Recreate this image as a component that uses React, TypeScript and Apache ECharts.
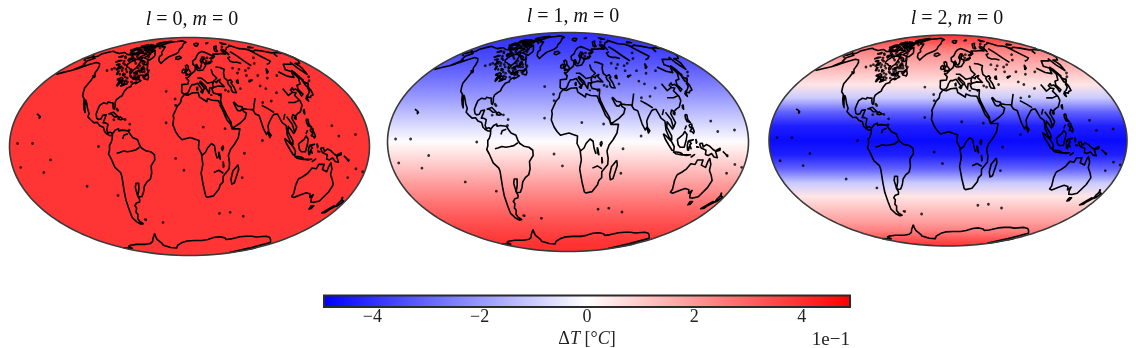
import React, { useEffect, useRef } from "react";
import * as echarts from "echarts";

const mapTitles = [
  ["l", "0", "m", "0"],
  ["l", "1", "m", "0"],
  ["l", "2", "m", "0"],
];
const latitudes = [90, 80, 70, 60, 50, 40, 30, 20, 10, 0, -10, -20, -30, -40, -50, -60, -70, -80, -90];
const valuesL0 = [3.9, 3.9, 3.9, 3.9, 3.9, 3.9, 3.9, 3.9, 3.9, 3.9, 3.9, 3.9, 3.9, 3.9, 3.9, 3.9, 3.9, 3.9, 3.9];
const valuesL1 = [-4.0, -3.9, -3.7, -3.4, -3.0, -2.5, -1.95, -1.3, -0.65, 0.05, 0.7, 1.35, 2.0, 2.55, 3.05, 3.45, 3.75, 3.95, 4.0];
const valuesL2 = [3.9, 3.4, 2.5, 1.8, 1.2, 0.5, -1.0, -3.0, -4.3, -4.7, -4.3, -3.0, -1.0, 0.5, 1.2, 1.8, 2.5, 3.4, 3.9];
const colorbarTicks = [-4, -2, 0, 2, 4];
const colorLimit = 4.9;

type P = number[];
const northAmerica: P[] = [[-168,65.5],[-164,66.5],[-166,68.5],[-160,70.5],[-156,71.3],[-148,70.3],[-141,69.7],[-135,69],[-128,70],[-124,69.5],[-115,68],[-108,68],[-102,68],[-96,68],[-94,71],[-90,69],[-85,69.5],[-81,68.5],[-86,66],[-87,64],[-92,62.5],[-94,60],[-94,58.5],[-92,57],[-88,56.5],[-85,55.3],[-82,55],[-82,53],[-80,51.5],[-79,52],[-79,54.5],[-77,56],[-77,59],[-78,62],[-74,62.3],[-70,61],[-69.5,58.8],[-66,58.8],[-64.5,60],[-62,57.5],[-60,55],[-56,52.5],[-59,50.3],[-65,50.2],[-68,49],[-71,47],[-65,49],[-64.5,47],[-61,46],[-64,44.5],[-66,43.7],[-66,45],[-69,44],[-70.5,42.5],[-70,41.5],[-74,40.5],[-75.5,38],[-76,36.5],[-76,35],[-78,34],[-81,32],[-81.3,30],[-80,27],[-80.3,25.3],[-81.5,26],[-82.7,28],[-83.5,29.8],[-85.5,29.8],[-89,30.3],[-89.5,29.2],[-91,29.3],[-94,29.7],[-97,28],[-97.5,25],[-97.8,22],[-96,19],[-94,18.2],[-91.5,18.6],[-90.5,21],[-87,21.5],[-87.7,18.5],[-88.5,16],[-86,15.9],[-83.3,15],[-83.6,11],[-82,9],[-79.5,9.5],[-77.5,8.6],[-78,7.5],[-80,7.3],[-83,8.3],[-85.7,10],[-87.5,13],[-91.5,14],[-94.5,16.2],[-98,16],[-102,18],[-105.5,20],[-105.5,22.5],[-109,26],[-112.5,30],[-114.7,31.7],[-113,28],[-110,23],[-112,25],[-115,29],[-117,32.5],[-120.5,34.5],[-122.5,37.5],[-124.3,40.5],[-124,46],[-124.7,48.4],[-123,49],[-128,52],[-130,55],[-134,58],[-139,60],[-146,60.8],[-152,59],[-158,56.5],[-163,55],[-158,58.5],[-162,60],[-165,62],[-161,64.5],[-168,65.5]];
const southAmerica: P[] = [[-77.5,8.6],[-75,11],[-72,12],[-71.5,10.5],[-68,11],[-62,10.5],[-60,8.5],[-57,6],[-52,4.5],[-50,1],[-48,-1],[-44,-2.8],[-39,-3.5],[-35.2,-5.5],[-35,-9],[-39,-13],[-39,-18],[-41,-22],[-45,-24],[-48.5,-27],[-50.5,-31],[-53.5,-34.3],[-57,-34.6],[-58.3,-33.5],[-57,-36.5],[-58,-38.3],[-62,-39],[-65,-41],[-64,-42.5],[-67,-46],[-66,-47.5],[-69,-51],[-68.5,-53],[-65.5,-55],[-69,-55.5],[-73,-53.5],[-75.5,-50],[-74,-44],[-73,-37],[-71.5,-30],[-70.3,-20],[-71,-17.5],[-76,-14],[-79,-8],[-81.2,-5],[-80,-2.5],[-80,1],[-78.5,2.5],[-77.5,5],[-77.5,8.6]];
const africa: P[] = [[-5.9,35.8],[-2,35.2],[3,36.8],[10,37.2],[11,34],[15,32.3],[19,30.5],[20,32.8],[25,31.6],[32,31.2],[32.5,29.8],[34.3,28],[33,28],[35,25],[37,21],[38.5,18],[42,15],[43.3,11.8],[51,11.8],[49,6],[45,1.5],[41,-2],[39,-6],[40.5,-11],[40.5,-15],[35,-20],[35.5,-24],[32.8,-26],[32,-29],[27,-33.8],[20,-34.8],[18.3,-34],[15,-27],[12,-18],[13.5,-12],[12,-5],[9,-1],[9.5,4],[5,5],[1,6],[-4,5.2],[-7.5,4.5],[-11,7],[-14,10],[-17,14.7],[-16.3,19],[-17,21],[-13,27.5],[-9.7,30],[-9,33],[-5.9,35.8]];
const eurasia: P[] = [[-9,37],[-9.3,43],[-2,43.5],[-1,46],[-4.5,48.3],[-1.5,48.7],[2,51],[4,52],[7,53.5],[8.5,55.5],[8.3,57],[10.5,57.5],[10,55],[12,54],[14,54],[19,54.5],[21,56],[24,58],[23.5,59.3],[28,59.7],[30,60],[25,60.2],[21.5,60.7],[21.5,63],[25,65.5],[22,65.8],[17.5,62.5],[18.8,60],[16.5,57],[14.3,55.5],[12.7,56],[11,59],[8,58],[5.3,59],[5,62],[10,64],[14,67.5],[18,69.5],[25,71],[31,70],[41,67],[40,65.5],[35,64.5],[37,64],[40,64.7],[44,66],[44,68.5],[54,68.5],[60,69],[68,68.5],[67,72],[73,73],[73,68],[74,72],[80,73],[87,75],[100,76.5],[105,77.7],[113,74],[125,73.5],[130,71],[140,72.5],[150,71.5],[160,69.7],[170,70],[180,69],[180,65],[177,62.5],[170,60],[163,60],[163,58],[162,56],[157,51],[155.7,56],[159,61],[155,59.3],[143,59.3],[135,54.7],[141,53],[140,48],[135,43.5],[130,42.5],[127.5,39.5],[129.5,36],[126.5,34.5],[126.5,37.5],[125,39.7],[121.5,39],[122,40.7],[118,39],[119,37.3],[122.5,37],[119,35],[121.8,31],[121.5,28],[117,23.5],[113.5,22.3],[110,20.5],[108,21.5],[106,19],[109,13],[107,10.5],[105,8.7],[103,11],[100.5,13.5],[99.5,10],[103.5,4],[103.5,1.4],[101,3],[98.3,8],[98.5,14],[95,16],[94,18],[92,22],[89,21.8],[87,21],[82,16.5],[80,14],[80,10.5],[77.5,8],[75,12],[73,19],[72.5,21],[69,22],[67,25],[61,25.2],[57,25.7],[56.3,27],[52,27.5],[49,30.2],[48,29.8],[50.5,25],[51.5,24.3],[54,24.2],[56.3,25.8],[56.8,24],[59.8,22.5],[57.5,19],[52,15.8],[45,12.8],[43,13],[42.5,16.5],[39,21],[35,28.2],[34.3,31.3],[35,33],[36,36],[32,36],[27.5,36.7],[26.3,39.5],[29,41],[35,42],[41.5,41.5],[38,44.5],[37,45.5],[39,47],[35,46],[33.5,44.5],[30.5,46],[28,43],[28.5,41.2],[26,40.7],[24,40.7],[23,38],[22.5,36.5],[20,39.7],[19.5,41.5],[15,44.5],[13.5,45.5],[12.5,44.5],[16,41.7],[18.4,40],[16.5,39.5],[16,38],[12.5,41.5],[10,44],[6,43],[3,43],[0.5,40.5],[-0.5,38.5],[-2,36.8],[-5.5,36],[-9,37]];
const australia: P[] = [[114,-22],[113.5,-26],[115.5,-32],[115,-34.3],[118,-35],[124,-33],[129,-31.6],[134,-32.5],[136,-35],[138,-33],[138.5,-35.5],[141,-38.2],[145,-38.5],[150,-37.5],[153,-31],[153.5,-26],[150,-22.5],[146,-19],[145.5,-15],[143,-11],[141.8,-13],[141,-17],[136,-15.5],[136.5,-12],[131,-12],[129.5,-15],[125,-14.5],[122,-18],[118,-20.3],[114,-22]];
const greenland: P[] = [[-73,78.2],[-68,76],[-60,76],[-55,70],[-51,68],[-53,66],[-50,62.5],[-44,60],[-41,63],[-37,65.7],[-26,68.5],[-22,70.5],[-22,73],[-18,76],[-18,80],[-12,81.5],[-30,83.5],[-45,82.5],[-60,82],[-68,80.5],[-73,78.2]];
const antarctica: P[] = [[-58,-63.5],[-60,-66],[-62,-69],[-60,-73],[-62,-75],[-50,-77.5],[-35,-78],[-28,-75],[-15,-72],[-5,-70.5],[10,-70],[25,-70],[35,-69],[45,-67],[55,-66.5],[65,-67.5],[70,-69],[78,-68.5],[90,-66.5],[100,-66],[110,-66],[120,-66.7],[135,-66],[145,-67],[155,-69],[165,-71],[170,-72],[165,-78],[172,-84],[180,-78]];
const antarcticaWest: P[] = [[-180,-78],[-160,-78.5],[-150,-76],[-140,-75],[-120,-74],[-100,-74],[-85,-73],[-75,-71],[-68,-68],[-58,-63.5]];
const aleutians: P[] = [[-178,51],[-172,52.5],[-165,54],[-160,55.5],[-155,58]];
const chukotka: P[] = [[-180,68.5],[-175,67.3],[-170,66],[-173,64.5],[-180,65]];
const arcticIslands: P[][] = [
  [[-62,66.5],[-65,63],[-72,64],[-78,65],[-73,68],[-80,70],[-88,71],[-85,73.5],[-78,73],[-70,71],[-62,66.5]],
  [[-105,69],[-115,69.5],[-118,71.5],[-115,73],[-105,73],[-101,70],[-105,69]],
  [[-125,72],[-119,72],[-116,75],[-123,74.5],[-125,72]],
  [[-90,76.5],[-78,76.5],[-75,79],[-62,82],[-70,83],[-88,81.5],[-90,79],[-90,76.5]],
  [[-92,75],[-80,74.7],[-82,75.8],[-92,76.5],[-92,75]],
  [[-117,75.2],[-106,75],[-106,76.5],[-116,76.5],[-117,75.2]],
  [[-96,72],[-90,72],[-91,74],[-96,74],[-96,72]],
  [[-95,79],[-87,79],[-90,81.3],[-95,80.5],[-95,79]],
  [[-87,63.5],[-81,63.5],[-80.5,65],[-85,66],[-87,63.5]],
  [[-104,74],[-98,73],[-97,75],[-103,75.5],[-104,74]],
  [[-120,76],[-112,77],[-116,78],[-122,77],[-120,76]],
  [[-102,76],[-96,76],[-97,78],[-104,78],[-102,76]],
  [[-80,62],[-76,61.8],[-78,63],[-80,62]],
  [[-78,73],[-72,72],[-75,70],[-80,71.5],[-78,73]],
  [[11,79],[20,80.3],[27,80],[20,77],[15,77],[11,79]],
  [[52,71],[57,71],[60,74],[69,77],[60,76],[54,73],[52,71]],
  [[95,79],[105,79],[100,81],[95,79]],
  [[137,75],[150,75],[145,76],[137,75]],
  [[48,80],[60,81],[55,80],[48,80]],
  [[-24,65.5],[-18,66.5],[-14,65],[-19,63.4],[-23,64],[-24,65.5]],
];
const otherIslands: P[][] = [
  [[49.3,-12.2],[50.3,-15.5],[47.5,-24.7],[45,-25.5],[43.5,-22],[44.5,-16.5],[49.3,-12.2]],
  [[145,-41],[148,-41],[148,-43],[146,-43.5],[145,-41]],
  [[172.7,-34.5],[175.5,-37],[178.3,-37.7],[176.5,-41],[175,-41.5],[174,-39],[174.5,-37],[172.7,-34.5]],
  [[172.5,-40.7],[174.3,-41.7],[171,-44.5],[170.5,-46],[167,-46.5],[170,-43],[172.5,-40.7]],
  [[131,-1],[134,-0.8],[135,-3.3],[138,-1.7],[141,-2.6],[145,-5],[147.5,-6],[150.5,-10.5],[147,-10],[144,-7.7],[141,-9],[138,-8.3],[138,-5.5],[133,-4],[131,-1]],
  [[148,-5.7],[152,-4.2],[152,-5.5],[148,-6.3],[148,-5.7]],
  [[155,-6.3],[158,-8],[161,-10]],
  [[109,1.7],[111,2.7],[115,5],[117,7],[119,5],[117.8,1],[116,-3.5],[112,-3.5],[110,-2],[109,1.7]],
  [[95.3,5.5],[98,4],[103.5,0],[106,-3],[105.8,-5.8],[104,-5.5],[100.5,-2],[97,2],[95.3,5.5]],
  [[105.3,-6.5],[108.5,-6.7],[112,-7],[114.5,-7.8],[114.5,-8.7],[108,-7.8],[105.3,-6.5]],
  [[115,-8.5],[119,-8.5],[123,-8.5],[119,-9],[115,-8.5]],
  [[123.5,-10.3],[127,-8.4],[125,-9.5],[123.5,-10.3]],
  [[120,0.8],[125,1.5],[121,0.3],[123,-1],[121.5,-2],[123,-4.5],[121,-3],[120.5,-5.5],[119.5,-5.3],[119,-2.5],[120,0.8]],
  [[127.5,2],[128.5,0],[128,-0.8],[127.5,2]],
  [[128,-3],[130.5,-3.5],[128,-3.4],[128,-3]],
  [[120.5,18.5],[122.3,18.3],[122,15],[124,13],[121,13.7],[120,16],[120.5,18.5]],
  [[122,7],[125.5,9.7],[126.5,7],[125.5,5.8],[124,7],[122,7]],
  [[122,11.5],[125,12],[125,10.5],[123,9.5],[122,11.5]],
  [[117.2,8.3],[119.5,11]],
  [[121,25],[122,25],[120.8,22],[120.2,23],[121,25]],
  [[109,20],[110.8,20],[110,18.3],[108.7,19],[109,20]],
  [[130.9,34],[135,35.6],[139,38],[140,40.5],[141.5,41],[141.8,39],[140.5,35.5],[137,34.7],[135.5,33.5],[132,34],[130.9,34]],
  [[130,33.5],[131.5,33.5],[131,31],[130,32],[130,33.5]],
  [[140,41.7],[141.5,45.5],[145,43.5],[143,42],[140,41.7]],
  [[142,54],[143,52],[143.5,46.5],[142,46],[142,50],[142,54]],
  [[80,9.7],[82,7.5],[80.5,6],[79.8,8],[80,9.7]],
  [[-5.5,50],[1.5,51.2],[1.5,52.8],[-1.5,55],[-2,57.5],[-3.5,58.6],[-6,58],[-5,55.5],[-3,54],[-4.5,52.8],[-5,51.8],[-3,51.3],[-5.5,50]],
  [[-10,52],[-6.3,52.2],[-6,54.5],[-8,55.2],[-10,54],[-10,52]],
  [[-85,22],[-80,23.2],[-75,20.5],[-74.2,20.1],[-78,20],[-82,22],[-85,22]],
  [[-74.3,18.5],[-72,20],[-68.5,18.5],[-71,18],[-74.3,18.5]],
  [[-59,47.7],[-53,46.7],[-53,48.5],[-56,51.5],[-59,47.7]],
  [[-128,50.5],[-123.5,48.4],[-125,48.8],[-128,50.5]],
  [[-160,22],[-157,21],[-155,20],[-155.5,19],[-156.5,21]],
  [[8.5,41],[9.5,41],[9.5,39],[8.5,39],[8.5,41]],
  [[12.5,38],[15.5,38],[15,36.8],[12.5,38]],
  [[23.5,35.4],[26,35.2]],
  [[32.5,35],[34.5,35.5],[33,34.7]],
  [[-61,-51.5],[-58,-51.5],[-59,-52.3],[-61,-51.5]],
];
const lakes: P[][] = [
  [[47,45.5],[52,46.8],[53,45],[51,44.5],[53,41],[54,37],[50,37.3],[49,39],[49.5,41],[47.5,43],[47,45.5]],
  [[58.5,46],[61,46.5],[60,44],[58.5,44.5],[58.5,46]],
  [[74,46],[79,46.5],[74.5,45],[74,46]],
  [[104,51.5],[109.5,55.5],[108,53],[104,51.5]],
  [[30.5,60],[33,60.5],[32,61.5],[30,61],[30.5,60]],
  [[35,61],[36,62],[35,62.5],[35,61]],
  [[31.8,-1],[33.5,0.3],[34,-1],[33,-2.7],[31.8,-1]],
  [[29.2,-3.5],[30,-5],[31,-8.5],[29.5,-7],[29.2,-3.5]],
  [[34,-10],[35,-13.5],[34.5,-14],[34,-10]],
  [[-92,46.7],[-88,48.5],[-85,47.5],[-85,46.5],[-88,46.5],[-92,46.7]],
  [[-87.5,41.7],[-86.3,43],[-85,45.7],[-87.5,45.5],[-88,43.5],[-87.5,41.7]],
  [[-84,46],[-81,45.5],[-80,44.5],[-82,43],[-83.5,44],[-84,46]],
  [[-83.3,41.7],[-79,42.8],[-80,42.5],[-83.3,41.7]],
  [[-79.5,43.3],[-76.3,43.5],[-76.5,44],[-79.5,43.7],[-79.5,43.3]],
  [[-97,50.5],[-99,53.5],[-97.5,53.5],[-96.5,51],[-97,50.5]],
  [[-111,58.7],[-106,59.3],[-108,59.5],[-111,58.7]],
  [[-117,61],[-110,62.5],[-114,62.5],[-117,61]],
  [[-124,65.5],[-118,66],[-120,67],[-124,65.5]],
  [[-102,64],[-96,65],[-98,62],[-102,64]],
  [[-75,53],[-71,54],[-72,51.5],[-75,53]],
  [[-70,56],[-66,56.5],[-67,54],[-70,56]],
  [[-90,52],[-86,51],[-88,50],[-90,52]],
  [[-104,57],[-100,57.5],[-102,55],[-104,57]],
  [[-74,48],[-71,49],[-71,47],[-74,48]],
];
const rivers: P[][] = [
  [[-50,-0.5],[-54,-2.4],[-58,-3],[-62,-3.5],[-66,-3],[-70,-4],[-73,-4.5]],
  [[-58,-34],[-58.5,-28],[-57,-25],[-54,-25],[-55,-29],[-58,-34]],
  [[-62,8.5],[-66,7.5],[-67,5]],
  [[12.5,-6],[16,-4],[18,-1],[22,2],[25,0.5],[26,-4],[28,-8]],
  [[35,-18],[30,-16],[25,-17.5]],
  [[72,66],[66,65],[65,62],[69,61],[75,61],[80,60]],
  [[82,71],[85,67],[88,62],[92,58]],
  [[127,72.5],[127,66],[130,62],[123,60],[117,59]],
  [[161,69],[155,66]],
  [[140,53],[135,48.5],[128,49.5],[122,53]],
  [[48,46],[45,48],[46,52],[49,55],[44,56.5],[38,57]],
  [[29,45],[22,44],[19,46],[15,48],[10,48]],
  [[32,46.5],[35,48],[31,51],[30.5,55]],
  [[89,23],[84,25.5],[78,28]],
  [[67.5,24],[71,30],[73,33]],
  [[121,31.5],[115,30],[108,30]],
  [[119,37.5],[112,35],[110,40]],
  [[106,10],[105,15],[101,20]],
  [[100,22],[97,18]],
];
const islandDots: P[] = [[-157,2],[-172,2],[-172,-14],[-150,-17.5],[-140,-9],[-91,0],[-24,16],[-15,28],[-27,38],[-16,32.5],[55,-21],[55,-4.5],[70,-49],[38,-46.8],[51,-46],[-37,-54],[-5.7,-16],[-14,-8],[14,13],[36,12],[-78,18],[-66.5,18.2],[-76,24.5],[-77.5,25.5],[150,7],[167,8],[145,14],[170,-15],[165,-21],[178,-17],[160,-9],[73,4],[-61,15],[-61,11],[-110,-27],[-80,-33.5],[-172,63],[-160,59],[145,44],[150,46],[155,49],[178,71],[80,76],[70,73],[20,62],[27,62],[25,64],[30,65],[62,56],[70,55],[78,54],[85,56],[100,60],[110,65],[90,50],[100,48],[115,50],[75,50],[65,52],[85,42],[90,40],[60,40],[45,38],[42,39],[80,30],[90,31],[100,37]];
const canadianDots: P[] = [[-100,56],[-103,55],[-110,55],[-105,62],[-100,63],[-95,64],[-100,66],[-110,65],[-113,66],[-75,52],[-72,50],[-76,49],[-70,54],[-68,53],[-65,53],[-74,56],[-93,51],[-115,54],[-75,69],[-82,73],[-100,75],[-105,78],[-112,78],[-92,66],[-95,68],[-98,68.5],[-92,64],[-88,62],[-100,69],[-110,70],[-108,72],[-100,72],[-94,76],[-85,78],[-70,75],[-72,66],[-76,62],[-68,63],[-66,61],[-72,60],[-74,58],[-68,57],[-64,55],[-62,53],[-70,51],[-78,50],[-80,48],[-84,49],[-86,53],[-90,55],[-94,54],[-96,56],[-98,59],[-102,60],[-105,58],[-108,56],[-90,47],[-80,46],[-77,45],[-72,45],[-68,47],[-66,47],[-60,49],[-57,54],[-83,60],[-77,68],[-84,72],[-90,74],[-95,70],[-104,67]];

const toTheta = (lat: number) => {
  const phi = (lat * Math.PI) / 180;
  if (Math.abs(lat) >= 90) return phi;
  let t = phi;
  for (let i = 0; i < 30; i++) t -= (2 * t + Math.sin(2 * t) - Math.PI * Math.sin(phi)) / (2 + 2 * Math.cos(2 * t));
  return t;
};
const project = (p: P) => {
  const t = toTheta(p[1]);
  return [p[0] * Math.cos(t), Math.sin(t)];
};
const colorOf = (v: number) => {
  const f = Math.max(-1, Math.min(1, v / colorLimit));
  const c = Math.round(255 * (1 - Math.abs(f)));
  return f >= 0 ? `rgb(255,${c},${c})` : `rgb(${c},${c},255)`;
};

const allLines: P[][] = [northAmerica, southAmerica, africa, eurasia, australia, greenland, antarctica, antarcticaWest, aleutians, chukotka, ...arcticIslands, ...otherIslands, ...lakes, ...rivers];
const lineData: any[] = [];
allLines.forEach((l) => {
  l.forEach((p) => lineData.push(project(p)));
  lineData.push([null, null]);
});
const dotData = [...islandDots, ...canadianDots].map(project);

const mapGrids = [
  { left: 9.5, top: 37.5, width: 360, height: 218 },
  { left: 387.5, top: 32.5, width: 361, height: 219 },
  { left: 769, top: 35, width: 358, height: 211 },
];
const mapValues = [valuesL0, valuesL1, valuesL2];
const titleCenters = [[187, 3], [568, 0], [952, 2]];

const ellipseShape = (api: any) => {
  const pts: number[][] = [];
  for (let a = 0; a <= 360; a += 2) {
    const r = (a * Math.PI) / 180;
    pts.push(api.coord([180 * Math.cos(r), Math.sin(r)]));
  }
  return pts;
};

function buildOption() {
  const series: any[] = [];
  mapValues.forEach((vals, i) => {
    const stops = latitudes.map((lat, k) => ({
      offset: (1 - Math.sin(toTheta(lat))) / 2,
      color: colorOf(vals[k]),
    }));
    series.push({
      type: "custom",
      xAxisIndex: i,
      yAxisIndex: i,
      clip: false,
      silent: true,
      z: 1,
      data: [[0, 0]],
      renderItem: (_: any, api: any) => ({
        type: "polygon",
        shape: { points: ellipseShape(api) },
        style: { fill: new echarts.graphic.LinearGradient(0, 0, 0, 1, stops), stroke: "none" },
      }),
    });
    series.push({
      type: "line",
      xAxisIndex: i,
      yAxisIndex: i,
      data: lineData,
      showSymbol: false,
      connectNulls: false,
      clip: false,
      silent: true,
      z: 2,
      lineStyle: { color: "#000", width: 1.6, join: "round" },
    });
    series.push({
      type: "scatter",
      xAxisIndex: i,
      yAxisIndex: i,
      data: dotData,
      symbolSize: 2.8,
      clip: false,
      silent: true,
      z: 2,
      itemStyle: { color: "#000" },
    });
    series.push({
      type: "custom",
      xAxisIndex: i,
      yAxisIndex: i,
      clip: false,
      silent: true,
      z: 3,
      data: [[0, 0]],
      renderItem: (_: any, api: any) => ({
        type: "polygon",
        shape: { points: ellipseShape(api) },
        style: { fill: "none", stroke: "#3a3a3a", lineWidth: 1.6 },
      }),
    });
  });
  series.push({
    type: "custom",
    xAxisIndex: 3,
    yAxisIndex: 3,
    clip: false,
    silent: true,
    data: [[0, 0]],
    renderItem: (_: any, api: any) => {
      const a = api.coord([-colorLimit, 1]);
      const b = api.coord([colorLimit, 0]);
      return {
        type: "rect",
        shape: { x: a[0], y: a[1], width: b[0] - a[0], height: b[1] - a[1] },
        style: {
          fill: new echarts.graphic.LinearGradient(0, 0, 1, 0, [
            { offset: 0, color: colorOf(-colorLimit) },
            { offset: 0.5, color: colorOf(0) },
            { offset: 1, color: colorOf(colorLimit) },
          ]),
          stroke: "#2b2b2b",
          lineWidth: 2,
        },
      };
    },
  });

  const hidden = { show: false };
  const mapX = mapGrids.map((_, i) => ({ type: "value", gridIndex: i, min: -180, max: 180, ...hidden }));
  const mapY = mapGrids.map((_, i) => ({ type: "value", gridIndex: i, min: -1, max: 1, ...hidden }));
  const serif = "'Liberation Serif', serif";
  return {
    animation: false,
    backgroundColor: "#fff",
    title: mapTitles.map((t, i) => ({
      text: `{i|${t[0]}} = ${t[1]}, {i|${t[2]}} = ${t[3]}`,
      left: titleCenters[i][0],
      top: titleCenters[i][1],
      textAlign: "center",
      textStyle: {
        fontFamily: serif,
        fontSize: 20,
        fontWeight: "normal",
        color: "#111",
        rich: { i: { fontFamily: serif, fontStyle: "italic", fontSize: 20, color: "#111" } },
      },
    })),
    grid: [...mapGrids, { left: 324, top: 295.5, width: 526, height: 12 }],
    xAxis: [
      ...mapX,
      {
        type: "value",
        gridIndex: 3,
        min: -colorLimit,
        max: colorLimit,
        axisLine: { show: false },
        axisTick: { show: false },
        splitLine: { show: false },
        axisLabel: {
          customValues: colorbarTicks,
          formatter: (v: number) => (v < 0 ? `\u2212${Math.abs(v)}` : `${v}`),
          fontFamily: serif,
          fontSize: 18,
          color: "#222",
          margin: 0,
        },
        name: "\u0394{i|T} [\u00b0{i|C}]",
        nameLocation: "middle",
        nameGap: 22,
        nameTextStyle: {
          fontFamily: serif,
          fontSize: 18,
          color: "#222",
          rich: { i: { fontFamily: serif, fontStyle: "italic", fontSize: 18, color: "#222" } },
        },
      },
    ],
    yAxis: [...mapY, { type: "value", gridIndex: 3, min: 0, max: 1, ...hidden }],
    graphic: [
      {
        type: "text",
        x: 850,
        y: 329,
        style: { text: "1e\u22121", fontFamily: serif, fontSize: 19, fill: "#222", align: "right" },
      },
    ],
    series,
  };
}

export default function App() {
  const ref = useRef<HTMLDivElement>(null);
  useEffect(() => {
    document.body.style.margin = "0";
    const chart = echarts.init(ref.current!, undefined, { renderer: "svg" });
    chart.setOption(buildOption() as any);
    return () => chart.dispose();
  }, []);
  return <div ref={ref} style={{ width: 1136, height: 348, filter: "blur(0.45px)" }} />;
}
